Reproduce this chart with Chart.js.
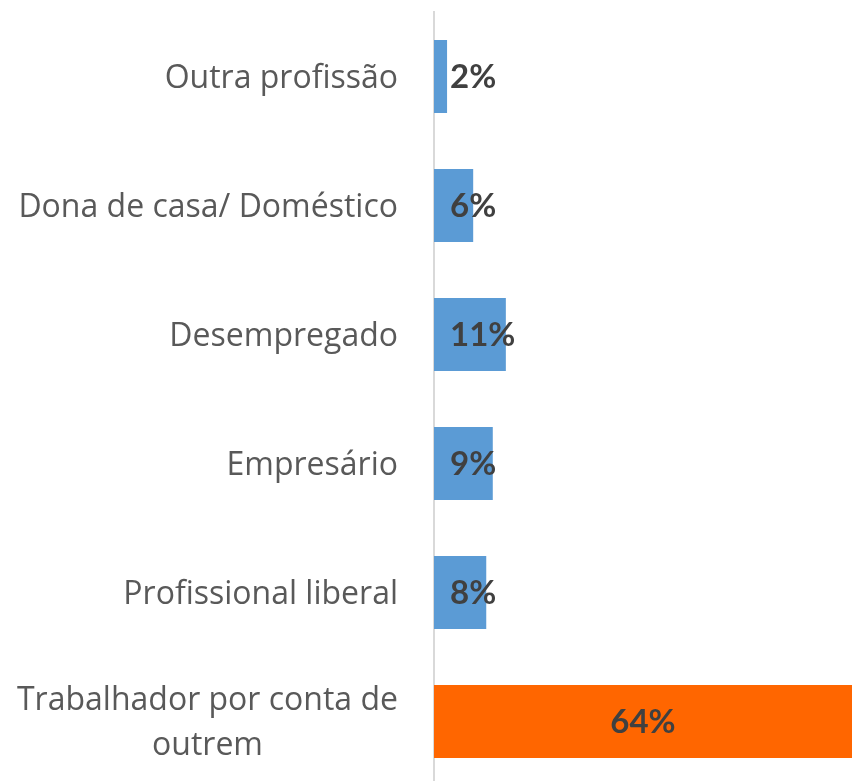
<!DOCTYPE html>
<html>
<head>
<meta charset="utf-8">
<script src="https://cdn.jsdelivr.net/npm/chart.js@4.4.1/dist/chart.umd.min.js"></script>
<style>
  html, body { margin: 0; padding: 0; background: #fff; overflow: hidden; }
  #wrap { width: 852px; height: 786px; }
</style>
</head>
<body>
<div id="wrap"><canvas id="chart" width="852" height="786"></canvas></div>
<script>
// --- dados ---
const categories = [
    ['Outra profissão'],
    ['Dona de casa/ Doméstico'],
    ['Desempregado'],
    ['Empresário'],
    ['Profissional liberal'],
    ['Trabalhador por conta de', 'outrem']
];
const values = [2, 6, 11, 9, 8, 64];
const barColors = ['#5B9BD5', '#5B9BD5', '#5B9BD5', '#5B9BD5', '#5B9BD5', '#FF6600'];
const valueLabels = values.map(v => v + '%');

const catFont = '32px "Open Sans"';
const valFont = 'bold 33px Lato';

// rótulos das categorias (texto centrado por linha, bloco alinhado à direita)
const categoryLabels = {
    id: 'categoryLabels',
    afterDraw(chart) {
        const ctx = chart.ctx;
        const yScale = chart.scales.y;
        const right = chart.chartArea.left - 36;
        const lineH = 45;
        ctx.save();
        ctx.font = catFont;
        ctx.fillStyle = '#595959';
        ctx.textAlign = 'center';
        ctx.textBaseline = 'middle';
        categories.forEach((lines, i) => {
            const y = yScale.getPixelForTick(i) + 2;
            const w = Math.max(...lines.map(l => ctx.measureText(l).width));
            const cx = right - w / 2;
            lines.forEach((line, j) => {
                ctx.fillText(line, cx, y + (j - (lines.length - 1) / 2) * lineH);
            });
        });
        ctx.restore();
    }
};

// rótulos de valor nas barras
const valueLabelPlugin = {
    id: 'valueLabels',
    afterDatasetsDraw(chart) {
        const ctx = chart.ctx;
        const meta = chart.getDatasetMeta(0);
        ctx.save();
        ctx.font = valFont;
        ctx.fillStyle = '#404040';
        ctx.textBaseline = 'middle';
        meta.data.forEach((bar, i) => {
            const width = bar.x - bar.base;
            if (width > 150) {
                ctx.textAlign = 'center';
                ctx.fillText(valueLabels[i], (bar.x + bar.base) / 2, bar.y + 1);
            } else {
                ctx.textAlign = 'left';
                ctx.fillText(valueLabels[i], bar.base + 16, bar.y + 1);
            }
        });
        ctx.restore();
    }
};

new Chart(document.getElementById('chart'), {
    type: 'bar',
    data: {
        labels: categories,
        datasets: [{
            data: values,
            backgroundColor: barColors,
            borderWidth: 0,
            categoryPercentage: 1,
            barPercentage: 0.565
        }]
    },
    options: {
        indexAxis: 'y',
        responsive: false,
        devicePixelRatio: 1,
        animation: false,
        layout: { padding: { top: 12, bottom: 0, left: 0, right: 0 } },
        plugins: {
            legend: { display: false },
            tooltip: { enabled: false }
        },
        scales: {
            x: { display: false, min: 0, max: 64 },
            y: {
                position: 'left',
                grid: { display: false },
                border: { display: true, color: '#d9d9d9', width: 2 },
                ticks: { display: false },
                afterFit(scale) { scale.width = 434; }
            }
        }
    },
    plugins: [categoryLabels, valueLabelPlugin]
});
</script>
</body>
</html>
